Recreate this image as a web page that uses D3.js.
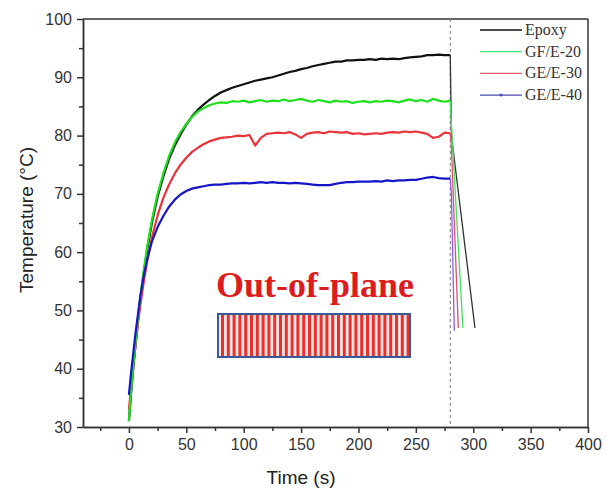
<!DOCTYPE html>
<html>
<head>
<meta charset="utf-8">
<script src="https://cdn.jsdelivr.net/npm/d3@7"></script>
<style>
  body { margin: 0; background: #fff; }
  svg { display: block; }
  .tick text { font-family: Arial, "Liberation Sans", sans-serif; font-size: 16px; fill: #333; }
  .axis path, .axis line { stroke: #333; stroke-width: 1.5; }
</style>
</head>
<body>
<div id="chart"></div>
<script>
const w = 611;
const h = 490;

// Temps de chauffage (s) partagé par les quatre courbes
const heatTime = [0, 2, 4, 6, 8, 10, 13, 16, 20, 25, 30, 35, 40, 45, 50, 55, 60, 65, 70, 75,
  80, 85, 90, 95, 100, 105, 110, 115, 120, 125, 130, 135, 140, 145, 150, 155, 160, 165, 170, 175,
  180, 185, 190, 195, 200, 205, 210, 215, 220, 225, 230, 235, 240, 245, 250, 255, 260, 265, 270, 275, 280];

const epoxyTemp = [31, 36, 40.5, 44.5, 48.5, 52, 56.5, 60.5, 65, 69.5, 73, 76, 78.3, 80.2, 81.9, 83.3, 84.4, 85.3, 86.1, 86.8,
  87.4, 87.8, 88.2, 88.5, 88.8, 89.1, 89.4, 89.6, 89.8, 90.0, 90.3, 90.6, 90.9, 91.1, 91.4, 91.6, 91.9, 92.1, 92.3, 92.5,
  92.7, 92.7, 92.9, 92.9, 93.0, 93.0, 93.1, 93.0, 93.2, 93.1, 93.2, 93.1, 93.3, 93.4, 93.5, 93.6, 93.8, 93.8, 93.9, 93.8, 93.8];

const gf20Temp = [31, 36.5, 41, 45, 49, 52.5, 57, 61, 65.5, 70, 73.5, 76.5, 78.8, 80.6, 82.0, 83.2, 84.1, 84.7, 85.2, 85.5,
  85.7, 85.6, 85.9, 85.8, 86.0, 85.7, 85.9, 86.1, 85.8, 86.0, 85.9, 86.2, 85.9, 86.1, 86.3, 86.0, 85.8, 86.1, 85.9, 85.7,
  86.0, 85.8, 85.9, 85.6, 85.8, 85.9, 85.7, 85.9, 85.8, 86.0, 85.9, 85.7, 86.0, 86.2, 85.9, 86.1, 85.8, 86.3, 86.0, 85.8, 86.0];

const ge30Temp = [33, 37, 41, 44.5, 48, 51, 55, 58.5, 62.5, 66.3, 69.3, 71.6, 73.5, 75.0, 76.2, 77.2, 77.9, 78.5, 79.0, 79.3,
  79.6, 79.7, 79.8, 80.0, 79.9, 80.1, 78.3, 79.6, 80.3, 80.4, 80.5, 80.4, 80.6, 80.2, 79.6, 80.3, 80.5, 80.6, 80.4, 80.7,
  80.6, 80.5, 80.6, 80.3, 80.4, 80.2, 80.3, 80.4, 80.3, 80.5, 80.6, 80.5, 80.7, 80.6, 80.7, 80.5, 80.3, 79.6, 79.8, 80.5, 80.4];

const ge40Temp = [35.5, 39.5, 43, 46.5, 49.5, 52.5, 56, 58.8, 61.8, 64.3, 66.2, 67.8, 69.0, 69.9, 70.5, 70.9, 71.1, 71.3, 71.5, 71.6,
  71.6, 71.7, 71.8, 71.8, 71.9, 71.8, 71.9, 72.0, 71.9, 72.0, 71.9, 71.9, 71.8, 71.9, 71.8, 71.7, 71.6, 71.5, 71.5, 71.5,
  71.7, 71.9, 72.0, 72.0, 72.1, 72.1, 72.1, 72.2, 72.1, 72.3, 72.2, 72.3, 72.3, 72.4, 72.4, 72.6, 72.8, 72.9, 72.7, 72.6, 72.6];

// Refroidissement après t = 280 s
const epoxyCoolTime = [280, 281, 301.5];
const epoxyCoolTemp = [93.8, 80, 47];
const gf20CoolTime = [280, 281, 291];
const gf20CoolTemp = [86.0, 82, 47];
const ge30CoolTime = [280, 281, 287];
const ge30CoolTemp = [80.4, 78, 47];
const ge40CoolTime = [280, 281, 283.5];
const ge40CoolTemp = [72.6, 70, 46.5];

const seriesNames = ["Epoxy", "GF/E-20", "GE/E-30", "GE/E-40"];
const xTicks = [0, 50, 100, 150, 200, 250, 300, 350, 400];
const yTicks = [30, 40, 50, 60, 70, 80, 90, 100];

const margin = { left: 83, right: 23, top: 19, bottom: 63 };

const x = d3.scaleLinear().domain([-40, 400]).range([margin.left, w - margin.right]);
const y = d3.scaleLinear().domain([30, 100]).range([h - margin.bottom, margin.top]);

const svg = d3.select("#chart").append("svg")
  .attr("width", w)
  .attr("height", h);

// Axes avec graduations mineures
const xMinor = d3.range(-25, 400, 50);
const yMinor = d3.range(35, 100, 10);

svg.append("g")
  .attr("class", "axis")
  .attr("transform", `translate(0,${y(30)})`)
  .call(d3.axisBottom(x).tickValues(xMinor).tickSize(4).tickSizeOuter(0).tickFormat(""));
svg.append("g")
  .attr("class", "axis")
  .attr("transform", `translate(0,${y(30)})`)
  .call(d3.axisBottom(x).tickValues(xTicks).tickSize(6).tickSizeOuter(0).tickPadding(6));

svg.append("g")
  .attr("class", "axis")
  .attr("transform", `translate(${x(-40)},0)`)
  .call(d3.axisLeft(y).tickValues(yMinor).tickSize(4).tickSizeOuter(0).tickFormat(""));
svg.append("g")
  .attr("class", "axis")
  .attr("transform", `translate(${x(-40)},0)`)
  .call(d3.axisLeft(y).tickValues(yTicks).tickSize(6).tickSizeOuter(0).tickPadding(5));

// Cadre haut et droit
svg.append("line")
  .attr("x1", x(-40)).attr("x2", x(400))
  .attr("y1", y(100)).attr("y2", y(100))
  .attr("stroke", "#333").attr("stroke-width", 1.5);
svg.append("line")
  .attr("x1", x(400)).attr("x2", x(400))
  .attr("y1", y(100)).attr("y2", y(30))
  .attr("stroke", "#333").attr("stroke-width", 1.5);

// Ligne pointillée à t = 280 s
svg.append("line")
  .attr("x1", x(280)).attr("x2", x(280))
  .attr("y1", y(100)).attr("y2", y(30))
  .attr("stroke", "#777").attr("stroke-width", 1)
  .attr("stroke-dasharray", "3,3");

const line = d3.line()
  .x(d => x(d[0]))
  .y(d => y(d[1]));

const heat = [
  { temps: epoxyTemp, color: "#111" },
  { temps: ge30Temp, color: "#e8343a" },
  { temps: gf20Temp, color: "#1ee01e" },
  { temps: ge40Temp, color: "#1616c8" }
];
const cool = [
  { t: epoxyCoolTime, v: epoxyCoolTemp, color: "#333" },
  { t: ge30CoolTime, v: ge30CoolTemp, color: "#e05070" },
  { t: gf20CoolTime, v: gf20CoolTemp, color: "#44e060" },
  { t: ge40CoolTime, v: ge40CoolTemp, color: "#8a5cf0" }
];

cool.forEach(s => {
  svg.append("path")
    .datum(s.t.map((t, i) => [t, s.v[i]]))
    .attr("d", line)
    .attr("fill", "none")
    .attr("stroke", s.color)
    .attr("stroke-width", 1.3);
});

heat.forEach(s => {
  svg.append("path")
    .datum(heatTime.map((t, i) => [t, s.temps[i]]))
    .attr("d", line)
    .attr("fill", "none")
    .attr("stroke", s.color)
    .attr("stroke-width", 2.2)
    .attr("stroke-linejoin", "round");
});

// Légende
const legendColors = ["#111", "#3ee07a", "#e05a6a", "#4a4ab0"];
const legend = svg.append("g").attr("transform", "translate(480,30)");
seriesNames.forEach((name, i) => {
  const g = legend.append("g").attr("transform", `translate(0,${i * 21.7})`);
  g.append("line")
    .attr("x1", 0).attr("x2", 42)
    .attr("stroke", legendColors[i]).attr("stroke-width", 1.3);
  if (i === 3) {
    g.append("circle").attr("cx", 21).attr("cy", 0).attr("r", 1.5).attr("fill", legendColors[i]);
  }
  g.append("text")
    .attr("x", 45).attr("y", 5)
    .attr("font-family", "'Liberation Serif', 'Times New Roman', serif")
    .attr("font-size", 16)
    .attr("fill", "#333")
    .text(name);
});

// Annotation "Out-of-plane" et schéma rayé
svg.append("text")
  .attr("x", 315).attr("y", 297)
  .attr("text-anchor", "middle")
  .attr("font-family", "'Liberation Serif', 'Times New Roman', serif")
  .attr("font-weight", "bold")
  .attr("font-size", 36)
  .attr("fill", "#dd1c22")
  .text("Out-of-plane");

const box = { x: 218, y: 314, w: 192, h: 43 };
svg.append("rect")
  .attr("x", box.x).attr("y", box.y)
  .attr("width", box.w).attr("height", box.h)
  .attr("fill", "#fbe3e3");
svg.selectAll(".stripe")
  .data(d3.range(box.x + 3, box.x + box.w - 3, 5.8))
  .join("rect")
  .attr("class", "stripe")
  .attr("x", d => d).attr("y", box.y)
  .attr("width", 3).attr("height", box.h)
  .attr("fill", "#e8302c");
svg.append("rect")
  .attr("x", box.x).attr("y", box.y)
  .attr("width", box.w).attr("height", box.h)
  .attr("fill", "none")
  .attr("stroke", "#3a5a96")
  .attr("stroke-width", 2);

// Titres des axes
svg.append("text")
  .attr("x", x(150)).attr("y", 484)
  .attr("text-anchor", "middle")
  .attr("font-family", "Arial, 'Liberation Sans', sans-serif")
  .attr("font-size", 19)
  .attr("fill", "#222")
  .text("Time (s)");

svg.append("text")
  .attr("transform", "translate(33,220) rotate(-90)")
  .attr("text-anchor", "middle")
  .attr("font-family", "Arial, 'Liberation Sans', sans-serif")
  .attr("font-size", 19)
  .attr("fill", "#222")
  .text("Temperature (°C)");
</script>
</body>
</html>
